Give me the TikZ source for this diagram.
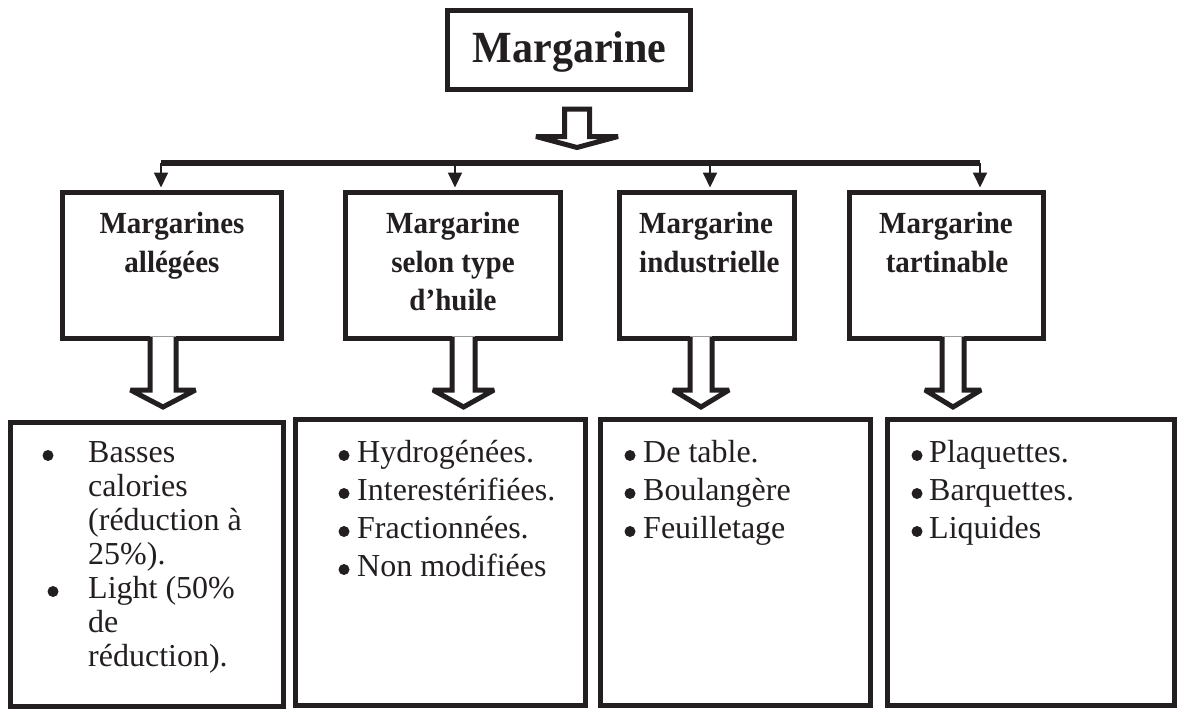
\documentclass[tikz,border=0pt]{standalone}
\usepackage{fontspec}
\setmainfont{Liberation Serif}
\usetikzlibrary{arrows.meta}
\definecolor{ink}{RGB}{35,31,32}

% hollow block arrow: centre x, top y, shaft half width, head half width, shoulder y, tip y
\newcommand\hollowdown[6]{%
  \fill[white] (#1-#3,#2) -- (#1-#3,#5) -- (#1-#4,#5) -- (#1,#6) -- (#1+#4,#5) -- (#1+#3,#5) -- (#1+#3,#2) -- cycle;
  \draw[bigarrow] (#1-#3,#2) -- (#1-#3,#5) -- (#1-#4,#5) -- (#1,#6) -- (#1+#4,#5) -- (#1+#3,#5) -- (#1+#3,#2);
  \draw[ink!45, line width=1pt] (#1-#3,#2) -- (#1+#3,#2);}
% slightly tall bold lettering
\newcommand\tall[1]{\scalebox{1}[1.06]{#1}}

\begin{document}
\begin{tikzpicture}[x=1pt,y=-1pt,
  frame/.style={draw=ink, line width=5pt, inner sep=0pt, fill=none},
  headtext/.style={font=\fontsize{29}{35}\selectfont\bfseries, text=ink, inner sep=0pt, anchor=base},
  item/.style={font=\fontsize{32}{38}\selectfont, text=ink, inner sep=0pt, anchor=base west},
  dot/.style={circle, fill=ink, inner sep=0pt, minimum size=11pt},
  bigarrow/.style={draw=ink, line width=5pt, line join=miter, miter limit=2},
  bus/.style={draw=ink, line width=5.5pt},
  drop/.style={draw=ink, line width=2pt, shorten >=2.5pt, -{Triangle[width=14pt,length=15pt]}}
]
\useasboundingbox (0,0) rectangle (1177,709);

% root
\node[frame, minimum width=243pt, minimum height=79pt] (root) at (569,50) {};
\node[font=\fontsize{42}{50}\selectfont\bfseries, text=ink, inner sep=0pt, anchor=base] (rootlabel) at (569.5,63) {\tall{Margarine}};

% second level boxes
\node[frame, minimum width=219pt, minimum height=146pt] (b1) at (172,265.5) {};
\node[frame, minimum width=215pt, minimum height=146pt] (b2) at (453,265.5) {};
\node[frame, minimum width=175pt, minimum height=146pt] (b3) at (707,265.5) {};
\node[frame, minimum width=194pt, minimum height=146pt] (b4) at (946.5,265.5) {};

\node[headtext] (t1a) at (172,233) {\tall{Margarines}};
\node[headtext] (t1b) at (172,272) {\tall{allégées}};
\node[headtext] (t2a) at (453,233) {\tall{Margarine}};
\node[headtext] (t2b) at (453,272) {\tall{selon type}};
\node[headtext] (t2c) at (453,310) {\tall{d’huile}};
\node[headtext, anchor=base west] (t3a) at (639,233) {\tall{Margarine}};
\node[headtext, anchor=base west] (t3b) at (639,272) {\tall{industrielle}};
\node[headtext] (t4a) at (946,233) {\tall{Margarine}};
\node[headtext] (t4b) at (947,272) {\tall{tartinable}};

% bottom boxes
\node[frame, minimum width=273pt, minimum height=284pt] (c1) at (146.5,564) {};
\node[frame, minimum width=289.5pt, minimum height=286.5pt] (c2) at (440.25,562.25) {};
\node[frame, minimum width=270pt, minimum height=286.5pt] (c3) at (735.5,562.25) {};
\node[frame, minimum width=286.5pt, minimum height=286.5pt] (c4) at (1030.75,562.25) {};

% bus from the root to the second level
\coordinate (d1) at (161,163);
\coordinate (d2) at (455,163);
\coordinate (d3) at (710,163);
\coordinate (d4) at (980,163);
\draw[bus] (d1) -- (d4);
\draw[drop] (d1) -- (d1 |- b1.north);
\draw[drop] (d2) -- (d2 |- b2.north);
\draw[drop] (d3) -- (d3 |- b3.north);
\draw[drop] (d4) -- (d4 |- b4.north);

% hollow arrows
\draw[bigarrow, fill=white] (564.5,109) -- (564.5,136.5) -- (536,136.5) -- (577,147.5) -- (618,136.5) -- (589.5,136.5) -- (589.5,109) -- cycle;
\hollowdown{163}{336}{13}{32.5}{390}{407}
\hollowdown{463.5}{336}{11.5}{30.5}{390}{407}
\hollowdown{701}{336}{11}{28}{390}{407}
\hollowdown{953}{336}{11}{28}{390}{407}

% contents of the bottom boxes
\node[dot] (a0) at (48,455.5) {};
\node[item] (a1) at (88,462) {Basses};
\node[item] (a2) at (88,496) {calories};
\node[item] (a3) at (88,530) {(réduction à};
\node[item] (a4) at (88,564) {25\%).};
\node[dot] (a5) at (53,591.5) {};
\node[item] (a6) at (88,598) {Light (50\%};
\node[item] (a7) at (88,632) {de};
\node[item] (a8) at (88,666) {réduction).};

\foreach \t [count=\i from 0] in {Hydrogénées., Interestérifiées., Fractionnées., Non modifiées}{
  \node[dot] (e\i b) at (344,455.5+38*\i) {};
  \node[item] (e\i) at (357,462+38*\i) {\t};
}
\foreach \t [count=\i from 0] in {De table., Boulangère, Feuilletage}{
  \node[dot] (f\i b) at (630,455.5+38*\i) {};
  \node[item] (f\i) at (643,462+38*\i) {\t};
}
\foreach \t [count=\i from 0] in {Plaquettes., Barquettes., Liquides}{
  \node[dot] (g\i b) at (917,455.5+38*\i) {};
  \node[item] (g\i) at (929,462+38*\i) {\t};
}
\end{tikzpicture}
\end{document}
